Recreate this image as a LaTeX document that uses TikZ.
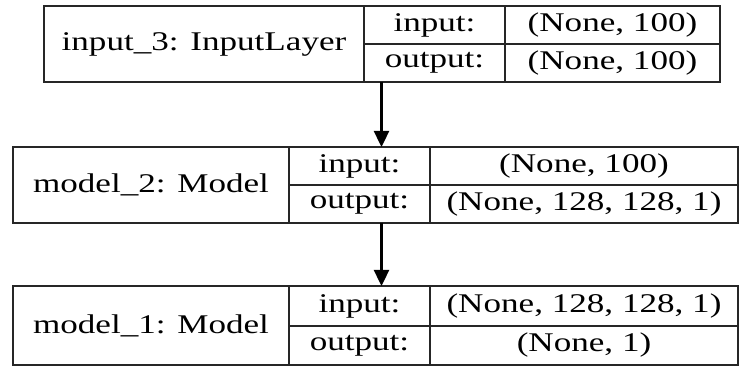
\documentclass[tikz,border=0pt]{standalone}
\usepackage{fontspec}
\setmainfont{Liberation Serif}
\usetikzlibrary{arrows.meta}
\newcommand{\hs}[1]{\scalebox{1.3}[1]{#1}}
\begin{document}
\begin{tikzpicture}[x=1pt,y=1pt,
  cell/.style={draw=black!85, line width=2.4pt, rectangle, inner sep=0pt, outer sep=0pt,
    font=\fontsize{27}{30}\selectfont, text=black},
  conn/.style={line width=2.4pt, draw=black, -{Triangle[length=16pt,width=15pt]}}]
\useasboundingbox (0,0) rectangle (739,369);
% box 1
\node[cell, minimum width=320pt, minimum height=76pt] (n1) at (204,325) {\hs{input\_3: InputLayer}};
\node[cell, minimum width=141pt, minimum height=38pt] (i1) at (434.5,344) {\hs{input:}};
\node[cell, minimum width=141pt, minimum height=38pt] (o1) at (434.5,306) {\hs{output:}};
\node[cell, minimum width=215pt, minimum height=38pt] (iv1) at (612.5,344) {\hs{(None, 100)}};
\node[cell, minimum width=215pt, minimum height=38pt] (ov1) at (612.5,306) {\hs{(None, 100)}};
% box 2
\node[cell, minimum width=276pt, minimum height=76pt] (n2) at (151,184) {\hs{model\_2: Model}};
\node[cell, minimum width=141pt, minimum height=38pt] (i2) at (359.5,203) {\hs{input:}};
\node[cell, minimum width=141pt, minimum height=38pt] (o2) at (359.5,165) {\hs{output:}};
\node[cell, minimum width=308pt, minimum height=38pt] (iv2) at (584,203) {\hs{(None, 100)}};
\node[cell, minimum width=308pt, minimum height=38pt] (ov2) at (584,165) {\hs{(None, 128, 128, 1)}};
% box 3
\node[cell, minimum width=276pt, minimum height=79pt] (n3) at (151,43.5) {\hs{model\_1: Model}};
\node[cell, minimum width=141pt, minimum height=40pt] (i3) at (359.5,63) {\hs{input:}};
\node[cell, minimum width=141pt, minimum height=39pt] (o3) at (359.5,23.5) {\hs{output:}};
\node[cell, minimum width=308pt, minimum height=40pt] (iv3) at (584,63) {\hs{(None, 128, 128, 1)}};
\node[cell, minimum width=308pt, minimum height=39pt] (ov3) at (584,23.5) {\hs{(None, 1)}};
% connectors
\coordinate (ax) at (381.5,0);
\draw[conn] (o1.south -| ax) -- (i2.north -| ax);
\draw[conn] (o2.south -| ax) -- (i3.north -| ax);
\end{tikzpicture}
\end{document}
